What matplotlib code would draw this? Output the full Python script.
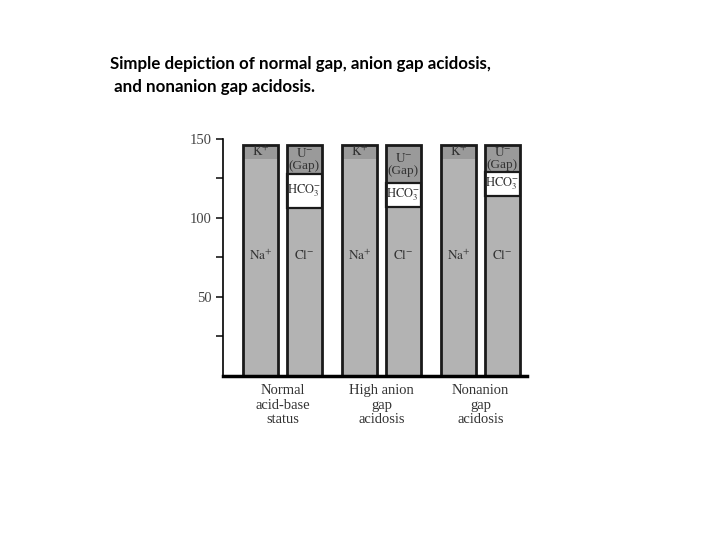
"""Simple depiction of normal gap, anion gap and nonanion gap acidosis"""

import numpy as np
import matplotlib.pyplot as plt

plt.rcParams['mathtext.fontset'] = 'stix'

groups = ['Normal\nacid-base\nstatus', 'High anion\ngap\nacidosis', 'Nonanion\ngap\nacidosis']
na = [137, 137, 137]
k = [9, 9, 9]
cl = [106, 107, 114]
hco3 = [22, 15, 15]
gap = [18, 24, 17]

x = np.arange(len(groups))
off = 0.22
w = 0.35

light = '#b3b3b3'
dark = '#9a9a9a'
serif = 'Liberation Serif'

fig = plt.figure(figsize=(7.2, 5.4), dpi=100)
ax = fig.add_axes([0.31, 0.304, 0.422, 0.439])

# cation column
ax.bar(x - off, na, w, color=light, edgecolor='none')
ax.bar(x - off, k, w, bottom=na, color=dark, edgecolor='none')
ax.bar(x - off, np.add(na, k), w, fill=False, edgecolor='#1a1a1a', linewidth=2)

# anion column
top_hco3 = np.add(cl, hco3)
ax.bar(x + off, cl, w, color=light, edgecolor='none')
ax.bar(x + off, gap, w, bottom=top_hco3, color=dark, edgecolor='none')
ax.bar(x + off, hco3, w, bottom=cl, color='white', edgecolor='#1a1a1a', linewidth=1.6)
ax.bar(x + off, np.add(top_hco3, gap), w, fill=False, edgecolor='#1a1a1a', linewidth=2)

txt = dict(ha='center', va='center', color='#333333', fontsize=9.5)
for i in range(len(groups)):
    ax.text(x[i] - off, na[i] + k[i] / 2, r'$\mathrm{K^{+}}$', **txt)
    ax.text(x[i] - off, 76, r'$\mathrm{Na^{+}}$', **txt)
    ax.text(x[i] + off, 76, r'$\mathrm{Cl^{-}}$', **txt)
    ax.text(x[i] + off, cl[i] + hco3[i] / 2, r'$\mathrm{HCO_3^{-}}$', fontsize=9, **{a: b for a, b in txt.items() if a != 'fontsize'})
    ax.text(x[i] + off, top_hco3[i] + gap[i] / 2, r'$\mathrm{U^{-}}$' + '\n(Gap)',
            family=serif, linespacing=1.0, **txt)

ax.set_xlim(-0.6, 2.47)
ax.set_ylim(0, 150)
ax.set_yticks([50, 100, 150])
ax.set_yticks([25, 75, 125], minor=True)
ax.tick_params(axis='y', which='both', length=5, width=1.2, colors='#1a1a1a',
               labelcolor='#444444', labelsize=10.5, pad=3)
for lab in ax.get_yticklabels():
    lab.set_family(serif)

ax.set_xticks(x, groups)
ax.tick_params(axis='x', length=0, pad=6, labelcolor='#333333', labelsize=10.5)
for lab in ax.get_xticklabels():
    lab.set_family(serif)
    lab.set_linespacing(1.15)

ax.spines['top'].set_visible(False)
ax.spines['right'].set_visible(False)
ax.spines['left'].set_linewidth(1.2)
ax.spines['bottom'].set_linewidth(2.5)

fig.text(0.153, 0.897, 'Simple depiction of normal gap, anion gap acidosis,\n and nonanion gap acidosis.',
         ha='left', va='top', fontsize=12.2, fontweight='bold', family='Lato', linespacing=1.6)

fig.savefig('out.png')
